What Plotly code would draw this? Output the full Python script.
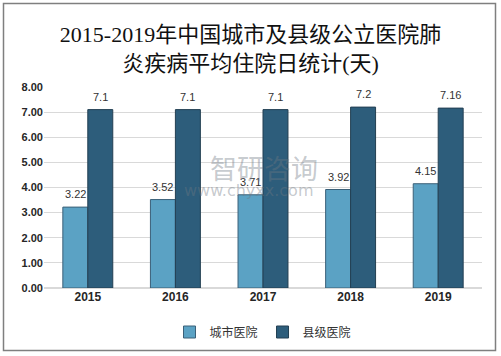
import plotly.graph_objects as go

years = [2015, 2016, 2017, 2018, 2019]
city = [3.22, 3.52, 3.71, 3.92, 4.15]
county = [7.1, 7.1, 7.1, 7.2, 7.16]
city_labels = ["3.22", "3.52", "3.71", "3.92", "4.15"]
county_labels = ["7.1", "7.1", "7.1", "7.2", "7.16"]
y_ticks = [0, 1, 2, 3, 4, 5, 6, 7, 8]

W, H = 501, 356
ml, mr, mt, mb = 44, 19, 87, 68
pw, ph = W - ml - mr, H - mt - mb


def px_x(p):
    return (p - ml) / pw


def px_y(p):
    return (mt + ph - p) / ph


fig = go.Figure()
fig.add_trace(go.Bar(name="城市医院", x=years, y=city,
                     marker=dict(color="#5ba2c4", line=dict(color="#3b6078", width=1))))
fig.add_trace(go.Bar(name="县级医院", x=years, y=county,
                     marker=dict(color="#2d5d7b", line=dict(color="#233f52", width=1))))

lab_font = dict(size=11, color="#333333", family="Liberation Sans")
ann = []
for i, yv in enumerate(years):
    ann.append(dict(x=yv, y=city[i], text=city_labels[i], showarrow=False, xshift=-12.5,
                    yshift=13, font=lab_font))
    ann.append(dict(x=yv, y=county[i], text=county_labels[i], showarrow=False, xshift=12.5,
                    yshift=13, font=lab_font))

# watermark
ann.append(dict(xref="paper", yref="paper", x=px_x(208), y=px_y(167),
                xanchor="left", yanchor="middle", text="智研咨询", showarrow=False,
                font=dict(size=27, color="rgba(110,120,130,0.4)", family="Noto Sans CJK SC")))
ann.append(dict(xref="paper", yref="paper", x=px_x(182), y=px_y(190),
                xanchor="left", yanchor="middle", text="www.chyxx.com", showarrow=False,
                font=dict(size=16, color="rgba(110,120,130,0.4)", family="DejaVu Sans")))

fig.update_layout(
    width=W, height=H,
    margin=dict(l=ml, r=mr, t=mt, b=mb, autoexpand=False),
    paper_bgcolor="white", plot_bgcolor="white",
    font=dict(family="Liberation Sans"),
    barmode="group", bargap=0.43, bargroupgap=0,
    title=dict(text="2015-2019年中国城市及县级公立医院肺<br>炎疾病平均住院日统计(天)",
               x=0.5, xanchor="center", y=1 - 42 / H, yanchor="top",
               font=dict(size=22, color="#111111", family="Liberation Serif, Noto Sans CJK SC")),
    xaxis=dict(range=[years[0] - 0.5, years[-1] + 0.5], tickvals=years,
               ticktext=["<b>%d</b>" % y for y in years],
               tickfont=dict(size=12, color="#262626", family="Liberation Sans"),
               showgrid=False, showline=False, zeroline=False, ticks=""),
    yaxis=dict(range=[0, 8], tickvals=y_ticks, ticktext=["<b>%.2f</b>" % v for v in y_ticks],
               tickfont=dict(size=11, color="#262626", family="Liberation Sans"),
               showgrid=True, gridcolor="#d9d9d9", gridwidth=1, zeroline=True,
               zerolinecolor="#d9d9d9", showline=False, ticks=""),
    legend=dict(orientation="h", x=0.5, xanchor="center", y=px_y(332), yanchor="middle",
                font=dict(size=12, color="#333333", family="Noto Sans CJK SC"),
                itemwidth=30, traceorder="normal"),
    annotations=ann,
    shapes=[dict(type="rect", xref="paper", yref="paper",
                 x0=px_x(3.5), x1=px_x(495.5), y0=px_y(350.5), y1=px_y(3.5),
                 line=dict(color="#7f7f7f", width=1.5), fillcolor="rgba(0,0,0,0)", layer="below")],
)

fig.write_html("out.html", config={"displayModeBar": False},
               post_script="document.body.style.margin='0';document.body.style.overflow='hidden';")
